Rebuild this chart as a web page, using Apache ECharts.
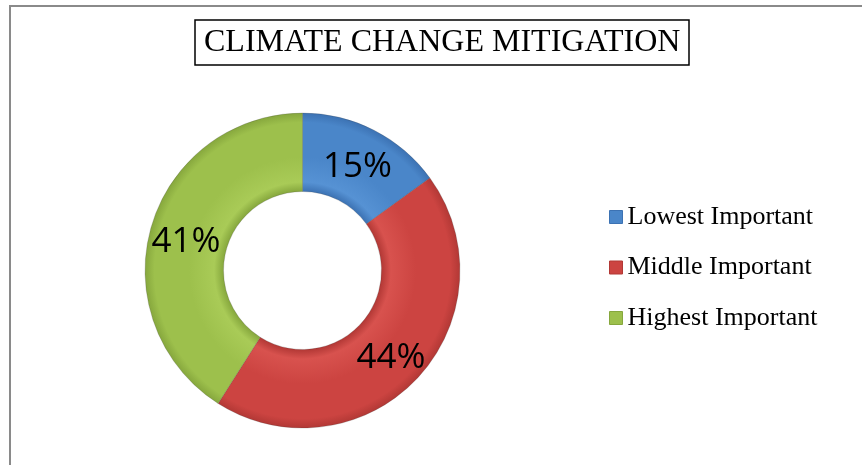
<!DOCTYPE html>
<html>
<head>
<meta charset="utf-8">
<script src="https://cdn.jsdelivr.net/npm/echarts@6/dist/echarts.min.js"></script>
<style>
  html, body { margin: 0; padding: 0; background: #fff; }
  #wrap { position: relative; width: 862px; height: 465px; }
  #frame { position: absolute; left: 9px; top: 5px; right: 0; bottom: 0;
           border-top: 2px solid #8a8a8a; border-left: 2px solid #8a8a8a; }
  #chart { position: absolute; left: 0; top: 0; width: 862px; height: 465px; }
</style>
</head>
<body>
<div id="wrap">
  <div id="frame"></div>
  <div id="chart"></div>
</div>
<script>
const titleText = 'CLIMATE CHANGE MITIGATION';
const categories = ['Lowest Important', 'Middle Important', 'Highest Important'];
const values = [15, 44, 41];
const baseColors = ['#4a86c9', '#cc4441', '#9dc04c'];
const edgeColors = ['#3c72b3', '#b23835', '#86a73d'];
const lightColors = ['#5692d4', '#d8524e', '#a9cb57'];

const CX = 302.5, CY = 270.5, R_OUT = 157.5, R_IN = 79;

function ringGradient(i) {
  const f = R_IN / R_OUT;
  return {
    type: 'radial', x: CX, y: CY, r: R_OUT, global: true,
    colorStops: [
      { offset: 0, color: edgeColors[i] },
      { offset: f, color: edgeColors[i] },
      { offset: f + 0.06, color: lightColors[i] },
      { offset: 0.72, color: baseColors[i] },
      { offset: 0.94, color: baseColors[i] },
      { offset: 1, color: edgeColors[i] }
    ]
  };
}

const chart = echarts.init(document.getElementById('chart'), null, { renderer: 'canvas' });
chart.setOption({
  animation: false,
  backgroundColor: 'transparent',
  title: {
    text: titleText,
    left: 195,
    top: 20,
    padding: [7, 9, 7, 9],
    borderColor: '#000',
    borderWidth: 1.5,
    textStyle: {
      fontFamily: '"Liberation Serif", "Times New Roman", serif',
      fontSize: 32,
      fontWeight: 'normal',
      color: '#000',
      lineHeight: 31
    }
  },
  legend: {
    orient: 'vertical',
    left: 604,
    top: 199,
    itemWidth: 13,
    itemHeight: 13,
    itemGap: 24.5,
    icon: 'rect',
    selectedMode: false,
    textStyle: {
      fontFamily: '"Liberation Serif", "Times New Roman", serif',
      fontSize: 26,
      color: '#000',
      lineHeight: 26
    },
    data: categories.map((c, i) => ({
      name: c,
      itemStyle: { color: baseColors[i], borderColor: edgeColors[i], borderWidth: 1 }
    }))
  },
  series: [{
    type: 'pie',
    center: [CX, CY],
    radius: [R_IN, R_OUT],
    startAngle: 90,
    clockwise: true,
    avoidLabelOverlap: false,
    label: {
      show: true,
      position: 'inside',
      formatter: '{p|{d}%}',
      color: '#000',
      textBorderWidth: 0,
      rich: {
        p: {
          fontFamily: '"Open Sans", "Noto Sans", sans-serif',
          fontSize: 35,
          color: '#000',
          lineHeight: 35,
          padding: [10, 0, 0, 0]
        }
      }
    },
    labelLine: { show: false },
    emphasis: { disabled: true },
    itemStyle: { borderColor: 'rgba(60,60,60,0.3)', borderWidth: 0.7 },
    data: categories.map((c, i) => ({
      name: c,
      value: values[i],
      itemStyle: { color: ringGradient(i) }
    }))
  }]
});
</script>
</body>
</html>
